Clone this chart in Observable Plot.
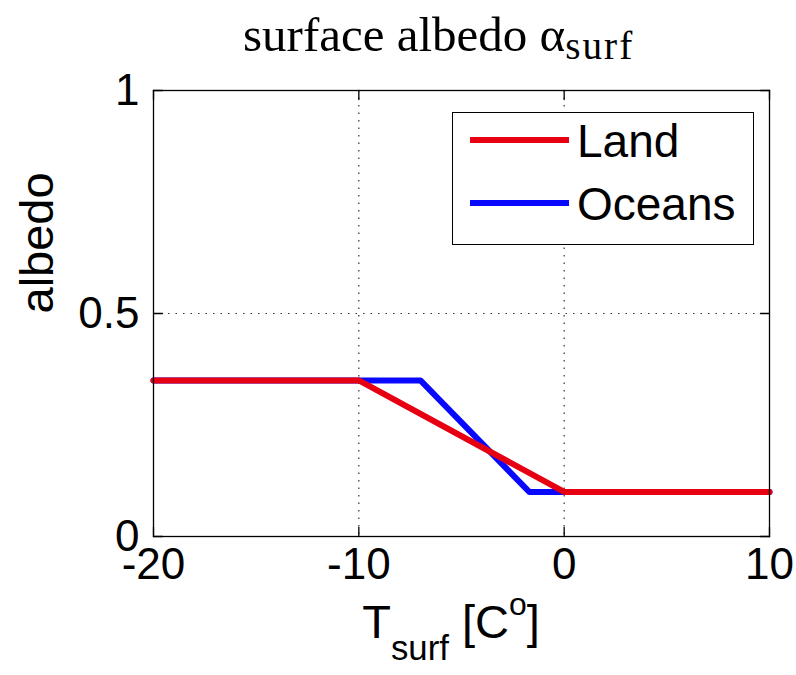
<!DOCTYPE html>
<html><head><meta charset="utf-8">
<script src="https://cdn.jsdelivr.net/npm/d3@7"></script>
<script src="https://cdn.jsdelivr.net/npm/@observablehq/plot@0.6"></script>
<style>
body{margin:0;background:#fff;}
#wrap{position:relative;width:796px;height:675px;overflow:hidden;background:#fff;}
#wrap svg.plot{position:absolute;left:0;top:0;}
.title{position:absolute;top:8px;left:243px;font-family:"Liberation Serif","Times New Roman",serif;font-size:49px;line-height:1.1;color:#000;white-space:nowrap;}
.title .sub{font-size:0.8em;position:relative;top:0.2em;letter-spacing:2px;}
.xlabel{position:absolute;top:596px;left:0;width:902px;text-align:center;font-family:"Liberation Sans",Arial,sans-serif;font-size:47px;line-height:1.1;color:#000;white-space:nowrap;}
.xlabel .sub{font-size:0.74em;position:relative;top:0.62em;}
.xlabel .sup{font-size:0.68em;position:relative;top:-0.72em;}
.legend{position:absolute;left:452px;top:112px;width:300px;height:131px;border:1.5px solid #000;background:#fff;}
.legend .row{position:absolute;left:0;height:60px;}
.legend .row span{position:absolute;left:124px;top:8px;font-family:"Liberation Sans",Arial,sans-serif;font-size:46px;line-height:1;color:#000;}
</style></head><body><div id="wrap"></div>
<script>
// ---- data ----
const landT = [-20, -10, 0, 10];
const landA = [0.35, 0.35, 0.1, 0.1];
const oceanT = [-20, -7, -1.7, 10];
const oceanA = [0.35, 0.35, 0.1, 0.1];
const xTicks = [-20, -10, 0, 10];
const yTicks = [0, 0.5, 1];
const xGrid = [-10, 0];
const yGrid = [0.5];
const seriesNames = ["Land", "Oceans"];
// ---- style ----
const seriesColors = ["#e60012", "#0808ff"];

const land = landT.map((t, i) => ({t, a: landA[i]}));
const ocean = oceanT.map((t, i) => ({t, a: oceanA[i]}));

const tickShape = {draw(ctx, l) { ctx.moveTo(0, 0); ctx.lineTo(0, -l); }};
const tickLen = 9;

const plot = Plot.plot({
  width: 796, height: 675,
  marginLeft: 153, marginRight: 27, marginTop: 90, marginBottom: 139,
  x: {domain: [-20, 10]},
  y: {domain: [0, 1]},
  style: {fontFamily: "Liberation Sans, Arial, sans-serif", fontSize: "44px", color: "#000", background: "#fff", overflow: "visible"},
  marks: [
    Plot.ruleX(xGrid, {x: d => d, stroke: "#333", strokeDasharray: "1.5,6", strokeWidth: 1.2}),
    Plot.ruleY(yGrid, {y: d => d, stroke: "#333", strokeDasharray: "1.5,6", strokeWidth: 1.2}),
    Plot.line(ocean, {x: "t", y: "a", stroke: seriesColors[1], strokeWidth: 6}),
    Plot.line(land, {x: "t", y: "a", stroke: seriesColors[0], strokeWidth: 6}),
    Plot.frame({stroke: "#000", strokeWidth: 1.3}),
    Plot.vector(xTicks, {x: d => d, y: () => 0, length: tickLen, rotate: 0, anchor: "start", shape: tickShape, stroke: "#000", strokeWidth: 1.3}),
    Plot.vector(xTicks, {x: d => d, y: () => 1, length: tickLen, rotate: 180, anchor: "start", shape: tickShape, stroke: "#000", strokeWidth: 1.3}),
    Plot.vector(yTicks, {x: () => -20, y: d => d, length: tickLen, rotate: 90, anchor: "start", shape: tickShape, stroke: "#000", strokeWidth: 1.3}),
    Plot.vector(yTicks, {x: () => 10, y: d => d, length: tickLen, rotate: -90, anchor: "start", shape: tickShape, stroke: "#000", strokeWidth: 1.3}),
    Plot.axisX({ticks: xTicks, tickSize: 0, tickPadding: 11, label: null, tickFormat: d => String(d)}),
    Plot.axisY({ticks: yTicks, tickSize: 0, tickPadding: 14, label: null, tickFormat: d => String(d)}),
    Plot.text(["albedo"], {frameAnchor: "left", dx: -116, rotate: -90, text: d => d, fontSize: 47})
  ]
});
plot.classList.add("plot");
const wrap = document.getElementById("wrap");
wrap.appendChild(plot);

const title = document.createElement("div");
title.className = "title";
title.innerHTML = 'surface albedo α<span class="sub">surf</span>';
wrap.appendChild(title);

const xl = document.createElement("div");
xl.className = "xlabel";
xl.innerHTML = 'T<span class="sub">surf</span> [C<span class="sup">o</span>]';
wrap.appendChild(xl);

const lg = document.createElement("div");
lg.className = "legend";
seriesNames.forEach((name, i) => {
  const row = document.createElement("div");
  row.className = "row";
  row.style.top = (i * 63 - 3) + "px";
  row.style.width = "300px";
  row.innerHTML = `<svg width="120" height="60" style="position:absolute;left:0;top:0"><line x1="17" x2="116" y1="30" y2="30" stroke="${seriesColors[i]}" stroke-width="6"/></svg><span>${name}</span>`;
  lg.appendChild(row);
});
wrap.appendChild(lg);
</script>
</body></html>
